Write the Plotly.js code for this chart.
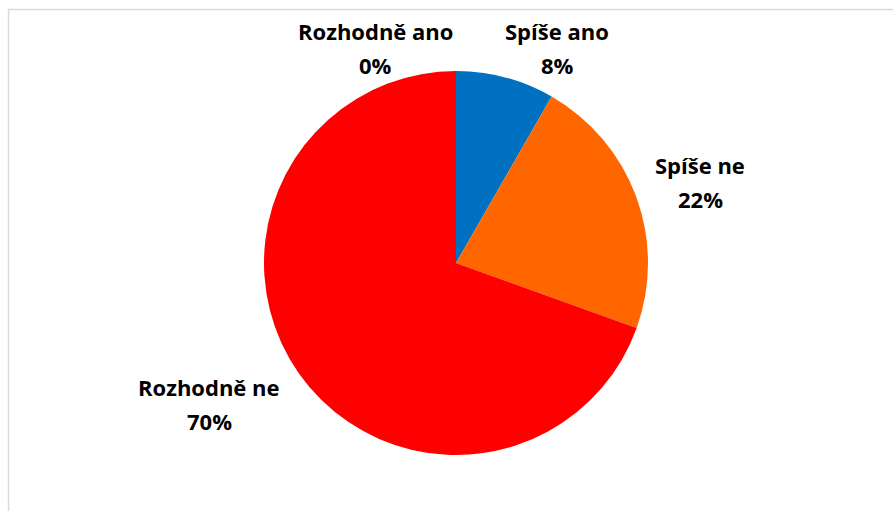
<!DOCTYPE html>
<html>
<head>
<meta charset="utf-8">
<script src="https://cdn.plot.ly/plotly-3.0.1.min.js"></script>
<style>html,body{margin:0;padding:0;background:#fff;}#chart{width:893px;height:511px;}</style>
</head>
<body>
<div id="chart"></div>
<script>
const categories = ["Rozhodně ano", "Spíše ano", "Spíše ne", "Rozhodně ne"];
const values = [0, 8.3, 22.2, 69.5];
const percentLabels = ["0%", "8%", "22%", "70%"];
const colors = ["#C00000", "#0070C0", "#FF6600", "#FF0000"];
// label anchor positions in pixels (center of name line)
const labelPos = [[375, 31], [557, 31], [700, 165], [209, 387]];

const W = 893, H = 511;
const px = x => x / W;
const py = y => 1 - y / H;

const cx = 456, cy = 263, r = 192;

const trace = {
  type: "pie",
  labels: categories,
  values: values,
  marker: { colors: colors, line: { width: 0 } },
  sort: false,
  direction: "clockwise",
  rotation: 0,
  textinfo: "none",
  hoverinfo: "label+percent",
  showlegend: false,
  domain: { x: [px(cx - r), px(cx + r)], y: [py(cy + r), py(cy - r)] }
};

const font = { family: "'Open Sans', sans-serif", size: 22, color: "#000" };
const annotations = [];
categories.forEach((c, i) => {
  const [x, y] = labelPos[i];
  annotations.push({ xref: "paper", yref: "paper", x: px(x), y: py(y), text: "<b>" + c + "</b>",
    showarrow: false, xanchor: "center", yanchor: "middle", font: font });
  annotations.push({ xref: "paper", yref: "paper", x: px(x), y: py(y + 34), text: "<b>" + percentLabels[i] + "</b>",
    showarrow: false, xanchor: "center", yanchor: "middle", font: font });
});

const layout = {
  width: W, height: H,
  margin: { l: 0, r: 0, t: 0, b: 0 },
  paper_bgcolor: "#fff",
  annotations: annotations,
  shapes: [{ type: "rect", xref: "paper", yref: "paper", x0: px(8.5), x1: 1.05, y0: -0.05, y1: py(9.5),
    line: { color: "#D9D9D9", width: 1.5 } }]
};

Plotly.newPlot("chart", [trace], layout, { displayModeBar: false, staticPlot: true });
</script>
</body>
</html>
